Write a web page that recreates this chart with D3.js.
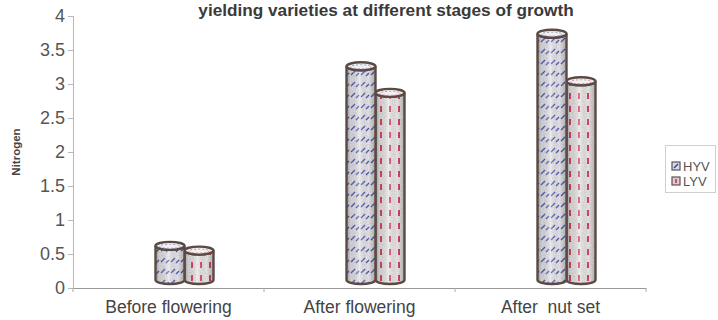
<!DOCTYPE html>
<html>
<head>
<meta charset="utf-8">
<script src="https://cdn.jsdelivr.net/npm/d3@7"></script>
<style>
  html, body { margin: 0; padding: 0; background: #fff; }
  svg { display: block; }
  text { font-family: "Liberation Sans", Arial, sans-serif; }
</style>
</head>
<body>
<div id="chart"></div>
<script>
const categories = ["Before flowering", "After flowering", "After  nut set"];
const seriesNames = ["HYV", "LYV"];
const hyv = [0.62, 3.26, 3.74];
const lyv = [0.55, 2.87, 3.04];
const yTicks = [0, 0.5, 1, 1.5, 2, 2.5, 3, 3.5, 4];
const yTickLabels = ["0", "0.5", "1", "1.5", "2", "2.5", "3", "3.5", "4"];
const titleText = "yielding varieties at different stages of growth";
const yAxisTitle = "Nitrogen";

const W = 718, H = 320;
const svg = d3.select("#chart").append("svg").attr("width", W).attr("height", H);
const defs = svg.append("defs");

// cylinder shading gradient
const grad = defs.append("linearGradient").attr("id", "cylShade").attr("x1", 0).attr("x2", 1).attr("y1", 0).attr("y2", 0);
[[0, "#000", 0.32], [0.14, "#000", 0.1], [0.45, "#fff", 0.25], [0.75, "#000", 0.02], [1, "#000", 0.25]].forEach(s =>
  grad.append("stop").attr("offset", s[0]).attr("stop-color", s[1]).attr("stop-opacity", s[2]));

// noise texture
const f = defs.append("filter").attr("id", "grain").attr("x", 0).attr("y", 0).attr("width", 1).attr("height", 1);
f.append("feTurbulence").attr("type", "fractalNoise").attr("baseFrequency", 0.9).attr("numOctaves", 2).attr("seed", 3).attr("result", "n");
f.append("feColorMatrix").attr("in", "n").attr("type", "matrix")
  .attr("values", "0 0 0 0 0.45  0 0 0 0 0.45  0 0 0 0 0.45  0 0 0 -1.6 1.05").attr("result", "g");
f.append("feComposite").attr("in", "g").attr("in2", "SourceGraphic").attr("operator", "in");

// HYV pattern: blue short diagonal dashes
const pH = defs.append("pattern").attr("id", "patHYV").attr("patternUnits", "userSpaceOnUse")
  .attr("width", 10).attr("height", 11);
pH.append("rect").attr("width", 10).attr("height", 11).attr("fill", "#e9e9ee");
pH.append("path").attr("d", "M1,9 L5,5 M6,10 L9,7").attr("stroke", "#4a50b0").attr("stroke-width", 1.4).attr("fill", "none");

// LYV pattern: red vertical dashes
const pL = defs.append("pattern").attr("id", "patLYV").attr("patternUnits", "userSpaceOnUse")
  .attr("width", 9).attr("height", 13);
pL.append("rect").attr("width", 9).attr("height", 13).attr("fill", "#eeeaea");
pL.append("path").attr("d", "M3,2 L3,8").attr("stroke", "#d8345e").attr("stroke-width", 2).attr("fill", "none");

const plot = { left: 73, right: 646, top: 16, bottom: 288 };
const y = d3.scaleLinear().domain([0, 4]).range([plot.bottom, plot.top]);
const x = d3.scaleBand().domain(categories).range([plot.left, plot.right]);
const xs = d3.scaleBand().domain(seriesNames).range([0, 58]);

// title
svg.append("text").attr("x", 386).attr("y", 16).attr("text-anchor", "middle")
  .attr("font-size", 17.2).attr("font-weight", "bold").attr("fill", "#3a3a3a").text(titleText);

// y axis
const yAxis = d3.axisLeft(y).tickValues(yTicks).tickFormat((d, i) => yTickLabels[i]).tickSize(5).tickPadding(3);
const gy = svg.append("g").attr("transform", `translate(${plot.left},0)`).call(yAxis);
gy.select(".domain").attr("stroke", "#b8b8b8");
gy.selectAll(".tick line").attr("stroke", "#b8b8b8");
gy.selectAll(".tick text").attr("font-size", 18).attr("fill", "#555").attr("font-family", "Liberation Sans, Arial, sans-serif");

// x axis
const xAxis = d3.axisBottom(x).tickSize(0).tickPadding(13);
const gx = svg.append("g").attr("transform", `translate(0,${plot.bottom})`).call(xAxis);
gx.select(".domain").attr("stroke", "#999");
gx.selectAll(".tick text").attr("font-size", 17.5).attr("fill", "#444").style("white-space", "pre")
  .attr("font-family", "Liberation Sans, Arial, sans-serif");
// boundary ticks
const bounds = categories.map(c => x(c)).concat([x(categories[categories.length - 1]) + x.bandwidth()]);
svg.append("g").selectAll("line").data(bounds).join("line")
  .attr("x1", d => d).attr("x2", d => d).attr("y1", plot.bottom).attr("y2", plot.bottom + 4)
  .attr("stroke", "#aaa");

// y axis title
svg.append("text").attr("transform", `translate(20,152) rotate(-90)`).attr("text-anchor", "middle")
  .attr("font-size", 11.5).attr("font-weight", "bold").attr("fill", "#444").text(yAxisTitle);

// cylinders
const depthX = 16, depthY = 8, ry = 4;
function cylinder(g, cx0, w, v, pat) {
  const x0 = cx0, x1 = cx0 + w, rx = w / 2;
  const top = y(v), bot = y(0) - depthY;
  const body = `M${x0},${top} L${x0},${bot} A${rx},${ry} 0 0 0 ${x1},${bot} L${x1},${top} A${rx},${ry} 0 0 1 ${x0},${top} Z`;
  g.append("path").attr("d", body).attr("fill", `url(#${pat})`);
  g.append("path").attr("d", body).attr("fill", "#999").attr("filter", "url(#grain)").attr("opacity", 0.5);
  g.append("path").attr("d", body).attr("fill", "url(#cylShade)");
  g.append("path").attr("d", body).attr("fill", "none").attr("stroke", "#5b4a44").attr("stroke-width", 2.4);
  g.append("ellipse").attr("cx", x0 + rx).attr("cy", top).attr("rx", rx).attr("ry", ry)
    .attr("fill", "#f1f1f1").attr("stroke", "#5b4a44").attr("stroke-width", 2.4);
  g.append("ellipse").attr("cx", x0 + rx).attr("cy", top + 0.5).attr("rx", rx - 4).attr("ry", ry - 2)
    .attr("fill", "none").attr("stroke", pat === "patHYV" ? "#9a9ac8" : "#d88a9c").attr("stroke-width", 1).attr("stroke-dasharray", "2,2");
}

const gBars = svg.append("g");
categories.forEach((c, i) => {
  const base = x(c) + x.bandwidth() / 2 + depthX - 29;
  const gc = gBars.append("g");
  cylinder(gc, base + xs("LYV"), xs.bandwidth(), lyv[i], "patLYV");
  cylinder(gc, base + xs("HYV"), xs.bandwidth(), hyv[i], "patHYV");
});

// legend
const lg = svg.append("g");
lg.append("rect").attr("x", 665.5).attr("y", 145.5).attr("width", 50).attr("height", 47)
  .attr("fill", "#fff").attr("stroke", "#cfcfcf");
seriesNames.forEach((s, i) => {
  const yy = 162 + i * 15;
  lg.append("rect").attr("x", 672).attr("y", yy).attr("width", 8).attr("height", 8)
    .attr("fill", i === 0 ? "#d8d8e8" : "#e8c8d0").attr("stroke", "#555").attr("stroke-width", 1.2);
  lg.append("path").attr("d", i === 0 ? `M674,${yy + 6} L678,${yy + 2}` : `M676,${yy + 2} L676,${yy + 6}`)
    .attr("stroke", i === 0 ? "#3a3a9a" : "#c02040").attr("stroke-width", 1.4);
  lg.append("text").attr("x", 683).attr("y", yy + 9).attr("font-size", 13).attr("fill", "#555").text(s);
});
</script>
</body>
</html>
